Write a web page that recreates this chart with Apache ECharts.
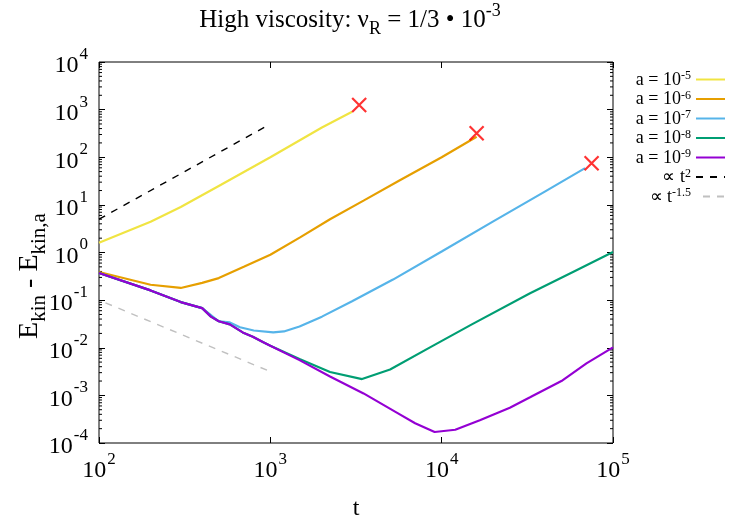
<!DOCTYPE html>
<html lang="en">
<head>
    <meta charset="UTF-8">
    <title>High viscosity</title>
</head>
<script src="https://cdn.jsdelivr.net/npm/echarts@6.0.0/dist/echarts.min.js" type="text/javascript"></script>
<body style="margin:0;background:#fff;">
<div id="chart" style="width:731px;height:521px;"></div>

<script type="text/javascript">
    // values (t, E_kin - E_kin,a)
    var tA5 = [100, 200, 300, 500, 1000, 2000, 3000];
    var yA5 = [1.6, 4.4, 9, 25, 100, 420, 900];

    var tA6 = [100, 200, 300, 400, 500, 700, 1000, 1500, 2230, 3500, 5700, 10000, 16000];
    var yA6 = [0.39, 0.21, 0.18, 0.23, 0.29, 0.5, 0.9, 2.1, 5, 12.3, 33, 100, 270];

    var tA7 = [100, 200, 300, 400, 500, 580, 665, 800, 1040, 1200, 1480, 2000, 3000, 5200, 10000, 20000, 40000, 68700];
    var yA7 = [0.37, 0.16, 0.091, 0.068, 0.036, 0.034, 0.027, 0.023, 0.021, 0.022, 0.028, 0.045, 0.095, 0.27, 1.05, 4.5, 19, 59];

    var tA8 = [100, 200, 300, 400, 450, 500, 580, 690, 790, 910, 1000, 1480, 2230, 3430, 5000, 8550, 15000, 32800, 60000, 100000];
    var yA8 = [0.37, 0.16, 0.091, 0.068, 0.045, 0.036, 0.031, 0.021, 0.017, 0.013, 0.011, 0.0058, 0.0031, 0.0022, 0.0035, 0.0102, 0.031, 0.14, 0.41, 1.02];

    var tA9 = [100, 200, 300, 400, 450, 500, 580, 690, 790, 910, 1000, 1480, 2230, 3500, 5500, 7000, 9100, 12000, 16700, 25000, 32800, 50000, 70000, 100000];
    var yA9 = [0.37, 0.16, 0.091, 0.068, 0.045, 0.036, 0.031, 0.021, 0.017, 0.013, 0.011, 0.0055, 0.0025, 0.0011, 0.00043, 0.00026, 0.00017, 0.00019, 0.0003, 0.00055, 0.00091, 0.002, 0.0047, 0.0102];

    var tPow2 = [100, 1000];
    var yPow2 = [5, 500];
    var tPow15 = [100, 1000];
    var yPow15 = [0.1, 0.00316];

    // red crosses at the end of the runs
    var tEnd = [3300, 16000, 75000];
    var yEnd = [1250, 320, 75];

    var seriesNames = ['a = 10{s|-5}', 'a = 10{s|-6}', 'a = 10{s|-7}', 'a = 10{s|-8}', 'a = 10{s|-9}', '∝ t{s|2}', '∝ t{s|-1.5}'];
    var seriesColors = ['#f0e442', '#e69f00', '#56b4e9', '#009e73', '#9400d3', '#000000', '#c0c0c0'];

    var minorTicks = [];
    for (var e = -4; e < 4; e++) {
        for (var k = 2; k <= 9; k++) minorTicks.push([100, k * Math.pow(10, e)]);
    }

    function pairs(t, y) {
        return t.map(function (v, i) { return [v, y[i]]; });
    }

    var font = 'Liberation Serif';
    var expLabel = function (v) {
        return '{b|10}{s|' + Math.round(Math.log10(v)) + '}';
    };
    var tickRich = {
        b: {fontFamily: font, fontSize: 24, color: '#000', lineHeight: 32, verticalAlign: 'bottom'},
        s: {fontFamily: font, fontSize: 17, color: '#000', lineHeight: 32, verticalAlign: 'top', padding: [0, 0, 0, 1]}
    };

    var chart = echarts.init(document.getElementById('chart'));

    var allData = [pairs(tA5, yA5), pairs(tA6, yA6), pairs(tA7, yA7), pairs(tA8, yA8), pairs(tA9, yA9), pairs(tPow2, yPow2), pairs(tPow15, yPow15)];
    var series = allData.map(function (d, i) {
        return {
            name: seriesNames[i],
            type: 'line',
            data: d,
            symbol: 'none',
            smooth: false,
            lineStyle: {color: seriesColors[i], width: i < 5 ? 2.2 : 1.4, type: i < 5 ? 'solid' : [7, 7], dashOffset: i === 6 ? 7 : 0},
            itemStyle: {color: seriesColors[i]},
            z: 3 + (i < 5 ? i : 0)
        };
    });
    series.push({
        type: 'scatter',
        data: pairs(tEnd, yEnd),
        symbol: 'path://M0,0L10,10M10,0L0,10',
        symbolSize: 14,
        itemStyle: {color: 'none', borderColor: '#ff0000', borderWidth: 2.2},
        z: 10
    });
    series.push({
        type: 'custom',
        data: minorTicks,
        silent: true,
        clip: false,
        renderItem: function (params, api) {
            var p = api.coord([api.value(0), api.value(1)]);
            var x0 = params.coordSys.x, x1 = x0 + params.coordSys.width;
            return {
                type: 'group',
                children: [
                    {type: 'line', shape: {x1: x0, y1: p[1], x2: x0 + 3, y2: p[1]}, style: {stroke: '#000', lineWidth: 1}},
                    {type: 'line', shape: {x1: x1 - 3, y1: p[1], x2: x1, y2: p[1]}, style: {stroke: '#000', lineWidth: 1}}
                ]
            };
        }
    });

    var option = {
        animation: false,
        grid: {
            left: 99, right: 118, top: 62, bottom: 78, show: true, borderColor: '#000', borderWidth: 1,
            backgroundColor: 'transparent', containLabel: false, outerBoundsMode: 'none'
        },
        legend: {
            orient: 'vertical',
            right: 0,
            top: 65,
            align: 'right',
            itemWidth: 29,
            itemHeight: 10,
            itemGap: 0.5,
            data: seriesNames,
            itemStyle: {opacity: 0},
            formatter: function (n) { return '{b|' + n.replace('{s|', '}{s|'); },
            textStyle: {
                rich: {
                    b: {fontFamily: font, fontSize: 18, color: '#000', lineHeight: 19, verticalAlign: 'bottom'},
                    s: {fontFamily: font, fontSize: 12, color: '#000', lineHeight: 19, verticalAlign: 'top'}
                }
            }
        },
        graphic: [
            {
                type: 'text', x: 350, y: 20,
                style: {
                    text: '{b|High viscosity: ν}{u|R}{b| = 1/3 • 10}{s|-3}',
                    align: 'center', verticalAlign: 'middle', textAlign: 'center', textVerticalAlign: 'middle',
                    rich: {
                        b: {fontFamily: font, fontSize: 25, fill: '#000', lineHeight: 36, verticalAlign: 'middle'},
                        u: {fontFamily: font, fontSize: 18, fill: '#000', lineHeight: 36, verticalAlign: 'bottom'},
                        s: {fontFamily: font, fontSize: 18, fill: '#000', lineHeight: 36, verticalAlign: 'top'}
                    }
                }
            },
            {
                type: 'text', x: 30, y: 276, rotation: Math.PI / 2,
                style: {
                    text: '{b|E}{u|kin}{b| - E}{u|kin,a}',
                    align: 'center', verticalAlign: 'middle', textAlign: 'center', textVerticalAlign: 'middle',
                    rich: {
                        b: {fontFamily: font, fontSize: 28, fill: '#000', lineHeight: 40, verticalAlign: 'middle'},
                        u: {fontFamily: font, fontSize: 21, fill: '#000', lineHeight: 40, verticalAlign: 'bottom'}
                    }
                }
            }
        ],
        xAxis: [
            {
                type: 'log', logBase: 10, min: 100, max: 100000, splitNumber: 3,
                name: 't', nameLocation: 'middle', nameGap: 54,
                nameTextStyle: {fontFamily: font, fontSize: 24, color: '#000'},
                axisLine: {show: false},
                axisTick: {inside: true, length: 6, lineStyle: {color: '#000'}},
                splitLine: {show: false},
                axisLabel: {margin: 8, formatter: expLabel, rich: tickRich}
            },
            {
                type: 'log', logBase: 10, min: 100, max: 100000, splitNumber: 3, position: 'top',
                axisLine: {show: false},
                axisTick: {inside: true, length: 6, lineStyle: {color: '#000'}},
                splitLine: {show: false},
                axisLabel: {show: false}
            }
        ],
        yAxis: [
            {
                type: 'log', logBase: 10, min: 1e-4, max: 1e4, splitNumber: 8,
                axisLine: {show: false},
                axisTick: {inside: true, length: 6, lineStyle: {color: '#000'}},
                splitLine: {show: false},
                axisLabel: {margin: 11, formatter: expLabel, rich: tickRich}
            },
            {
                type: 'log', logBase: 10, min: 1e-4, max: 1e4, splitNumber: 8, position: 'right',
                axisLine: {show: false},
                axisTick: {inside: true, length: 6, lineStyle: {color: '#000'}},
                splitLine: {show: false},
                axisLabel: {show: false}
            }
        ],
        series: series
    };
    chart.setOption(option);
</script>
</body>
</html>
